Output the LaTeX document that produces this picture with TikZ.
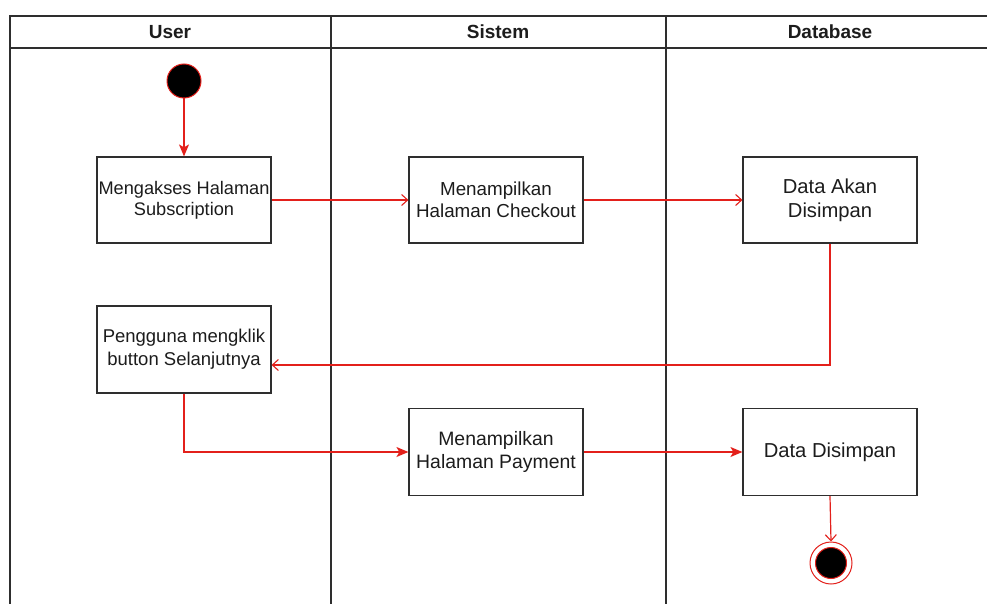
\documentclass[tikz,border=0pt]{standalone}
\usepackage{fontspec}
\setmainfont{Liberation Sans}
\usetikzlibrary{arrows.meta}
\definecolor{flowred}{HTML}{E3201B}
\definecolor{edgegray}{HTML}{2E2E2E}
\definecolor{inkgray}{HTML}{1C1C1C}
\tikzset{
  lane/.style={draw=edgegray, line width=1.3pt},
  lanehead/.style={font=\fontsize{19}{22}\selectfont\bfseries, text=inkgray},
  act/.style={draw=edgegray, line width=1.2pt, fill=white, minimum width=174pt,
    minimum height=86pt, inner sep=0pt, align=center, text=inkgray},
  smalltxt/.style={font=\fontsize{18.2}{21}\selectfont},
  klicktxt/.style={font=\fontsize{18.5}{23}\selectfont},
  midtxt/.style={font=\fontsize{18.8}{22.5}\selectfont},
  paytxt/.style={font=\fontsize{19.4}{23}\selectfont},
  bigtxt/.style={font=\fontsize{20.2}{24}\selectfont},
  flow/.style={draw=flowred, line width=1.2pt},
  openhead/.style={-{Straight Barb[length=6pt,width=11pt,line width=1.1pt]}},
  solidhead/.style={-{Stealth[length=12pt,width=10pt,inset=3pt]}},
  initnode/.style={circle, draw=flowred, line width=1pt, fill=black, minimum size=34pt, inner sep=0pt},
  finalring/.style={circle, draw=flowred, line width=1pt, fill=white, minimum size=42pt, inner sep=0pt},
  finaldot/.style={circle, draw=flowred, line width=1pt, fill=black, minimum size=31pt, inner sep=0pt}
}
\begin{document}
\begin{tikzpicture}[x=1pt, y=-1pt]
\useasboundingbox (0,0) rectangle (987,604);
\fill[white] (0,0) rectangle (987,604);

% swimlane frame
\draw[lane] (10,604) -- (10,16) -- (987,16);
\draw[lane] (10,48) -- (987,48);
\draw[lane] (331,16) -- (331,604);
\draw[lane] (666,16) -- (666,604);

\node[lanehead] (hUser) at (170,32) {User};
\node[lanehead] (hSistem) at (498,32) {Sistem};
\node[lanehead] (hDb) at (830,32) {Database};

% activities
\node[initnode] (start) at (184,81) {};
\node[act, smalltxt] (akses) at (184,200) {Mengakses Halaman\\Subscription};
\node[act, midtxt] (checkout) at (496,200) {Menampilkan\\Halaman Checkout};
\node[act, bigtxt] (simpan1) at (830,200) {Data Akan\\Disimpan};
\node[act, klicktxt, minimum height=87pt] (klik) at (184,349.5) {Pengguna mengklik\\button Selanjutnya};
\node[act, paytxt, minimum height=87pt] (payment) at (496,452) {Menampilkan\\Halaman Payment};
\node[act, bigtxt, minimum height=87pt] (simpan2) at (830,452) {Data Disimpan};
\node[finalring] (endring) at (831,563) {};
\node[finaldot] (enddot) at (831,563) {};

% flows
\draw[flow, solidhead] (start) -- (akses);
\draw[flow, openhead] (akses) -- (checkout);
\draw[flow, openhead] (checkout) -- (simpan1);
\coordinate (klikIn) at ([yshift=-15.5pt]klik.east);
\draw[flow, openhead] (simpan1.south) -- (simpan1.south |- klikIn) -- (klikIn);
\draw[flow, solidhead] (klik.south) -- (klik.south |- payment.west) -- (payment.west);
\draw[flow, solidhead] (payment) -- (simpan2);
\draw[flow, openhead] (simpan2.south) -- (endring.north);
\end{tikzpicture}
\end{document}
